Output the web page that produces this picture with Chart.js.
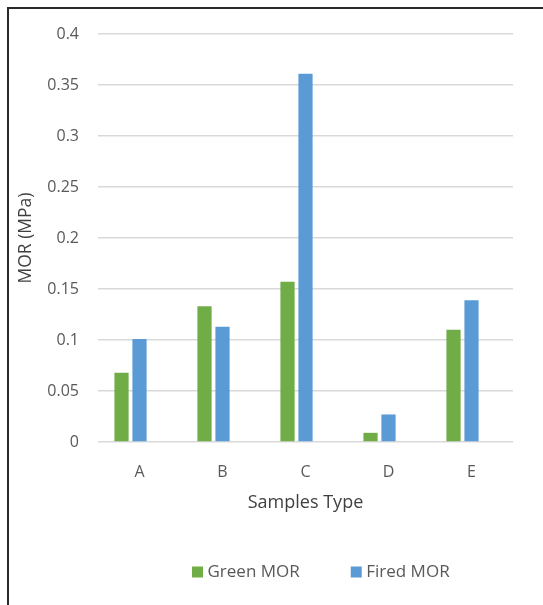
<!DOCTYPE html>
<html>
<head>
<meta charset="utf-8">
<script src="https://cdn.jsdelivr.net/npm/chart.js@4/dist/chart.umd.min.js"></script>
<style>
  html, body { margin: 0; padding: 0; background: #ffffff; }
  #wrap { position: absolute; left: 0; top: 0; width: 543px; height: 605px; overflow: hidden; }
  #c { position: absolute; left: 0; top: 0; }
  #frame { position: absolute; left: 7px; top: 7px; width: 600px; height: 700px;
           border-top: 2px solid #2a2a2a; border-left: 2px solid #2a2a2a; }
</style>
</head>
<body>
<div id="wrap">
  <canvas id="c" width="543" height="605" style="width:543px;height:605px"></canvas>
  <div id="frame"></div>
</div>
<script>
// ---- data ----
const categories = ['A', 'B', 'C', 'D', 'E'];
const greenMOR = [0.068, 0.133, 0.157, 0.009, 0.110];
const firedMOR = [0.101, 0.113, 0.361, 0.027, 0.139];
const seriesNames = ['Green MOR', 'Fired MOR'];
const yTickLabels = ['0', '0.05', '0.1', '0.15', '0.2', '0.25', '0.3', '0.35', '0.4'];
const xTitle = 'Samples Type';
const yTitle = 'MOR (MPa)';

const GREEN = '#70AD47';
const BLUE = '#5B9BD5';
const FONT = "'Open Sans', 'Liberation Sans', sans-serif";

// legend drawn below the plot
const legendPlugin = {
  id: 'bottomLegend',
  afterDraw(chart) {
    const ctx = chart.ctx;
    ctx.save();
    ctx.font = '17px ' + FONT;
    ctx.textBaseline = 'middle';
    ctx.textAlign = 'left';
    let x = 192;
    const y = 572;
    chart.data.datasets.forEach(ds => {
      if (!ds.label) return;
      ctx.fillStyle = ds.backgroundColor;
      ctx.fillRect(x, y - 5.5, 11, 11);
      ctx.fillStyle = '#595959';
      ctx.fillText(ds.label, x + 15.5, y + 0.5);
      x += 15.5 + ctx.measureText(ds.label).width + 51;
    });
    ctx.restore();
  }
};

new Chart(document.getElementById('c'), {
  type: 'bar',
  data: {
    labels: categories,
    datasets: [
      { label: seriesNames[0], data: greenMOR, backgroundColor: GREEN, borderWidth: 0 },
      { label: seriesNames[1], data: firedMOR, backgroundColor: BLUE, borderWidth: 0 },
      { label: '', data: [], backgroundColor: 'rgba(0,0,0,0)', borderWidth: 0 }
    ]
  },
  options: {
    responsive: false,
    animation: false,
    devicePixelRatio: 1,
    datasets: { bar: { categoryPercentage: 0.65, barPercentage: 0.79 } },
    layout: { padding: { left: 10, right: 30, top: 34, bottom: 0 } },
    plugins: {
      legend: { display: false },
      tooltip: { enabled: false }
    },
    scales: {
      x: {
        grid: { display: false },
        border: { display: false },
        ticks: { color: '#595959', font: { family: FONT, size: 16 }, padding: 13 },
        title: { display: true, text: xTitle, color: '#404040',
                 font: { family: FONT, size: 18 }, padding: { top: 0, bottom: 91 } },
        afterFit(scale) { scale.height = 163; }
      },
      y: {
        min: 0, max: 0.4,
        grid: { color: '#d9d9d9', lineWidth: 1.5, drawTicks: false },
        border: { display: false },
        ticks: { stepSize: 0.05, color: '#595959', font: { family: FONT, size: 16 }, padding: 19,
                 callback: (v, i) => yTickLabels[i] },
        title: { display: true, text: yTitle, color: '#404040',
                 font: { family: FONT, size: 17.5 }, padding: { top: 6, bottom: 0 } },
        afterFit(scale) { scale.width = 88; }
      }
    }
  },
  plugins: [legendPlugin]
});
</script>
</body>
</html>
